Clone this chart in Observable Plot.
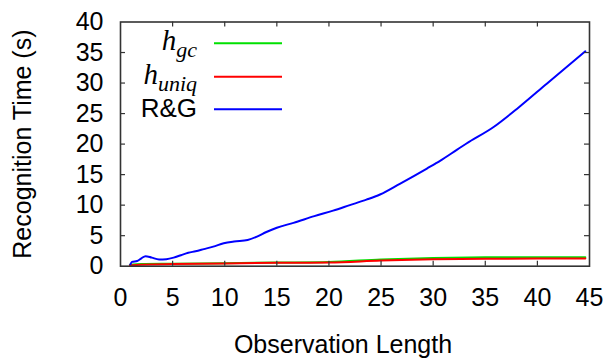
<!DOCTYPE html>
<html><head><meta charset="utf-8">
<script src="https://cdn.jsdelivr.net/npm/d3@7"></script>
<script src="https://cdn.jsdelivr.net/npm/@observablehq/plot@0.6"></script>
<style>body{margin:0;background:#fff}#chart{width:607px;height:360px}</style>
</head><body><div id="chart"></div>
<script>
// ---- data ----
const gcX   = [0.9, 2, 5, 10, 15, 20, 25, 30, 35, 40, 44.6];
const gcY   = [0.25, 0.35, 0.4, 0.5, 0.6, 0.7, 1.1, 1.35, 1.45, 1.48, 1.48];
const uniqX = [0.9, 2, 5, 10, 15, 20, 25, 30, 35, 40, 44.6];
const uniqY = [0.15, 0.25, 0.35, 0.45, 0.55, 0.6, 0.93, 1.15, 1.22, 1.25, 1.25];
const rgX   = [0.95, 1.1, 1.6, 2.0, 2.4, 3.0, 3.7, 4.4, 5.1, 5.8, 6.5, 7.2, 8.0, 8.9, 9.9, 10.9, 12.2, 13.1, 14.0, 15.0, 16.6, 18.6, 20.4, 22.0, 23.6, 24.9, 26.8, 29.4, 30.7, 32.3, 33.2, 35.8, 38.2, 40.9, 44.6];
const rgY   = [0.3, 0.7, 0.85, 1.3, 1.65, 1.4, 1.1, 1.15, 1.4, 1.8, 2.2, 2.45, 2.8, 3.2, 3.75, 4.05, 4.3, 4.85, 5.6, 6.3, 7.1, 8.2, 9.1, 10.0, 10.9, 11.75, 13.5, 16.0, 17.3, 19.1, 20.1, 22.8, 26.0, 29.9, 35.2];
const seriesKeys = ["gc", "uniq", "rg"];
const seriesColors = ["#00e000", "#ff0000", "#0000ff"];
const xTicks = [0, 5, 10, 15, 20, 25, 30, 35, 40, 45];
const yTicks = [0, 5, 10, 15, 20, 25, 30, 35, 40];
const xTitle = "Observation Length";
const yTitle = "Recognition Time (s)";

const toRows = (xs, ys, s) => xs.map((x, i) => ({x, y: ys[i], s}));
const rows = [...toRows(gcX, gcY, "gc"), ...toRows(uniqX, uniqY, "uniq"), ...toRows(rgX, rgY, "rg")];

const W = 607, H = 360, mL = 120, mR = 18, mT = 21.5, mB = 94.3;
const innerW = W - mL - mR, innerH = H - mT - mB, tk = 5;
const FS = 25;
const axisColor = "#333";

const plot = Plot.plot({
  width: W, height: H,
  marginLeft: mL, marginRight: mR, marginTop: mT, marginBottom: mB,
  style: {fontFamily: "'Liberation Sans', Arial, sans-serif", fontSize: FS + "px", color: "#000", background: "#fff"},
  x: {domain: [0, 45]},
  y: {domain: [0, 40]},
  color: {domain: seriesKeys, range: seriesColors},
  marks: [
    Plot.line(rows, {x: "x", y: "y", z: "s", stroke: "s", strokeWidth: 2, curve: "monotone-x"}),
    Plot.tickX(xTicks.slice(1, -1), {x: d => d, insetTop: innerH - tk, stroke: axisColor, strokeWidth: 1.2}),
    Plot.tickX(xTicks.slice(1, -1), {x: d => d, insetBottom: innerH - tk, stroke: axisColor, strokeWidth: 1.2}),
    Plot.tickY(yTicks.slice(1, -1), {y: d => d, insetRight: innerW - tk, stroke: axisColor, strokeWidth: 1.2}),
    Plot.tickY(yTicks.slice(1, -1), {y: d => d, insetLeft: innerW - tk, stroke: axisColor, strokeWidth: 1.2}),
    Plot.frame({stroke: axisColor, strokeWidth: 1.6}),
    Plot.axisX(xTicks, {tickSize: 0, tickPadding: 22, label: null, fontSize: FS}),
    Plot.axisY(yTicks, {tickSize: 0, tickPadding: 17, label: null, fontSize: FS}),
    Plot.text([xTitle], {frameAnchor: "bottom", textAnchor: "middle", lineAnchor: "middle", dx: -12, dy: 79, fontSize: FS}),
    Plot.text([yTitle], {frameAnchor: "left", textAnchor: "middle", lineAnchor: "middle", rotate: -90, dx: -98, fontSize: FS})
  ]
});
document.getElementById("chart").append(plot);

// ---- legend (inside plot, top-left) ----
const svg = d3.select(plot);
const lg = svg.append("g");
const legendRows = [
  {key: "gc",   main: "h", sub: "gc",   y: 43.3},
  {key: "uniq", main: "h", sub: "uniq", y: 76.7},
  {key: "rg",   main: "R&G", sub: null, y: 109.3}
];
legendRows.forEach((r) => {
  const t = lg.append("text").attr("x", 197).attr("text-anchor", "end").attr("fill", "#000");
  if (r.sub) {
    t.attr("y", r.y + 7).attr("font-family", "'Liberation Serif', 'Times New Roman', serif").attr("font-style", "italic");
    t.append("tspan").attr("font-size", 29).text(r.main);
    t.append("tspan").attr("font-size", 22).attr("dy", 7).text(r.sub);
  } else {
    t.attr("y", r.y + 8).attr("font-size", 26).attr("font-family", "'Liberation Sans', Arial, sans-serif").text(r.main);
  }
  lg.append("line").attr("x1", 214).attr("x2", 282).attr("y1", r.y).attr("y2", r.y)
    .attr("stroke", seriesColors[seriesKeys.indexOf(r.key)]).attr("stroke-width", 2);
});
</script></body></html>
